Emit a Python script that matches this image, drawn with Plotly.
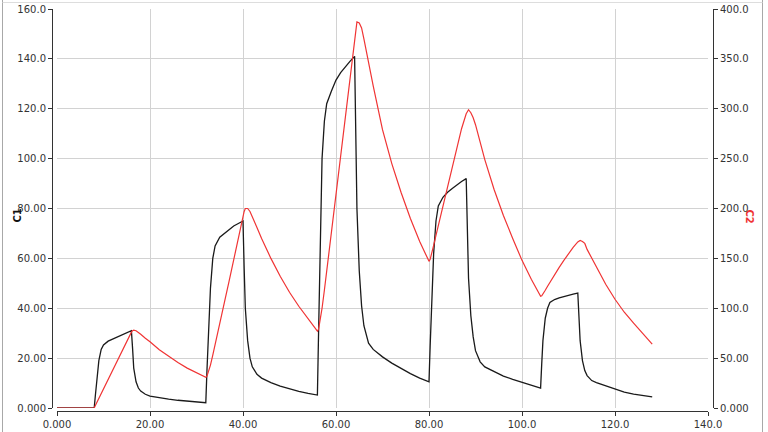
import plotly.graph_objects as go

# ---- data ----
t = [0,
     8, 8.25, 8.5, 9, 9.5, 10, 11, 12, 13, 14, 15, 16, 16.25, 16.5, 17, 17.5, 18, 19, 20, 22, 24, 26, 28, 30,
     32, 32.25, 32.5, 33, 33.5, 34, 35, 36, 37, 38, 39, 40, 40.25, 40.5, 41, 41.5, 42, 43, 44, 46, 48, 50, 52, 54,
     56, 56.25, 56.5, 57, 57.5, 58, 59, 60, 61, 62, 63, 64, 64.25, 64.5, 65, 65.5, 66, 67, 68, 70, 72, 74, 76, 78,
     80, 80.25, 80.5, 81, 81.5, 82, 83, 84, 85, 86, 87, 88, 88.25, 88.5, 89, 89.5, 90, 91, 92, 94, 96, 98, 100, 102,
     104, 104.25, 104.5, 105, 105.5, 106, 107, 108, 109, 110, 111, 112, 112.25, 112.5, 113, 113.5, 114, 115, 116, 118, 120, 122, 124, 126,
     128]

c1 = [0,
      0, 5, 10, 19, 23.5, 25.3, 26.8, 27.6, 28.3, 29.2, 30.1, 31, 24, 16, 10.5, 8, 6.8, 5.5, 4.8, 4.1, 3.6, 3.1, 2.7, 2.4,
      2.1, 15, 28, 48, 60, 65, 68.5, 70, 71.5, 73, 74, 75, 56, 40, 27, 20, 16.5, 13.5, 12, 10.2, 8.8, 7.6, 6.7, 5.9,
      5.2, 30, 54, 100, 115, 122, 127, 131.5, 134.5, 137, 139, 141, 108, 80, 55, 41, 33, 26, 23.5, 20.5, 18, 15.8, 13.8, 12,
      10.5, 25, 40, 62, 75, 81, 84.5, 86.5, 88, 89.5, 90.8, 92, 72, 52, 37, 28.5, 23, 18.5, 16.5, 14.5, 12.8, 11.5, 10.3, 9.1,
      8.0, 18, 27, 36, 40, 42.3, 43.5, 44.2, 44.8, 45.3, 45.7, 46.1, 36, 27, 19, 15, 13, 11, 10.2, 8.9, 7.4, 6.4, 5.6, 5.0,
      4.5]

c2 = [0,
      0, 2.4, 4.8, 9.5, 14.5, 19.5, 29, 38.5, 48, 57.5, 67, 76, 77.5, 78, 77.5, 76, 74, 70, 66.5, 58.5, 52, 45.5, 40, 35,
      30.7, 32, 35, 43, 53, 63, 84, 106, 127, 149, 170, 192, 197, 200, 200, 197, 192, 181, 170, 150, 132, 116, 102, 89,
      77, 79, 85, 100, 118, 137, 176, 215, 254, 292, 331, 370, 381, 387, 386, 381, 370, 345, 323, 279, 245, 216, 190, 167,
      147, 149, 153, 163, 173, 183, 203, 223, 243, 262, 280, 295, 298, 299, 296, 291, 284, 266, 249, 219, 193, 170, 148, 129,
      112, 112.5, 114, 118, 122, 126, 133.5, 141, 148, 155, 161, 166.5, 167.5, 168, 167, 165, 159, 150, 141, 124, 109, 96, 85, 74,
      64]

x_ticks = [0, 20, 40, 60, 80, 100, 120, 140]
x_labels = ["0.000", "20.00", "40.00", "60.00", "80.00", "100.0", "120.0", "140.0"]
y1_ticks = [0, 20, 40, 60, 80, 100, 120, 140, 160]
y1_labels = ["0.000", "20.00", "40.00", "60.00", "80.00", "100.0", "120.0", "140.0", "160.0"]
y2_ticks = [0, 50, 100, 150, 200, 250, 300, 350, 400]
y2_labels = ["0.000", "50.00", "100.0", "150.0", "200.0", "250.0", "300.0", "350.0", "400.0"]

W, H = 768, 432
FONT = "DejaVu Sans"

fig = go.Figure()
fig.add_trace(go.Scatter(x=t, y=c1, mode="lines", name="C1",
                         line=dict(color="#1a1a1a", width=1.3), yaxis="y"))
fig.add_trace(go.Scatter(x=t, y=c2, mode="lines", name="C2",
                         line=dict(color="#f03434", width=1.2), yaxis="y2"))

axis_common = dict(showline=True, linecolor="#333333", linewidth=1,
                   ticks="outside", ticklen=4, tickcolor="#333333", tickwidth=1,
                   tickfont=dict(family=FONT, size=10, color="#333333"),
                   zeroline=False, automargin=False)

fig.update_layout(
    width=W, height=H,
    margin=dict(l=0, r=0, t=0, b=0, autoexpand=False),
    paper_bgcolor="white", plot_bgcolor="white",
    showlegend=False,
    xaxis=dict(domain=[57 / W, 708 / W], range=[0, 140], anchor="free", position=21 / H,
               tickvals=x_ticks, ticktext=x_labels,
               showgrid=True, gridcolor="#d2d2d2", gridwidth=1, **axis_common),
    yaxis=dict(domain=[24 / H, 423 / H], range=[0, 160], anchor="free", position=52 / W,
               tickvals=y1_ticks, ticktext=y1_labels,
               showgrid=True, gridcolor="#d2d2d2", gridwidth=1, **axis_common),
    yaxis2=dict(domain=[24 / H, 423 / H], range=[0, 400], anchor="free", position=713 / W,
                overlaying="y", side="right",
                tickvals=y2_ticks, ticktext=y2_labels,
                showgrid=False, **axis_common),
    annotations=[
        dict(text="<b>C1</b>", xref="paper", yref="paper", x=9 / W, y=(432 - 216) / H,
             showarrow=False, textangle=-90, font=dict(family=FONT, size=10, color="#111111")),
        dict(text="<b>C2</b>", xref="paper", yref="paper", x=757 / W, y=(432 - 216) / H,
             showarrow=False, textangle=90, font=dict(family=FONT, size=10, color="#f03434")),
    ],
    shapes=[
        dict(type="line", xref="paper", yref="paper", x0=2.5 / W, x1=2.5 / W, y0=0, y1=1,
             line=dict(color="#a8a8a8", width=1), layer="above"),
        dict(type="line", xref="paper", yref="paper", x0=762.5 / W, x1=762.5 / W, y0=0, y1=1,
             line=dict(color="#a8a8a8", width=1), layer="above"),
        dict(type="line", xref="paper", yref="paper", x0=2.5 / W, x1=762.5 / W, y0=(432 - 2.5) / H, y1=(432 - 2.5) / H,
             line=dict(color="#dddddd", width=1), layer="above"),
    ],
)

fig.write_html("out.html", config={"displayModeBar": False},
               post_script="document.body.style.margin='0';document.body.style.overflow='hidden';")
